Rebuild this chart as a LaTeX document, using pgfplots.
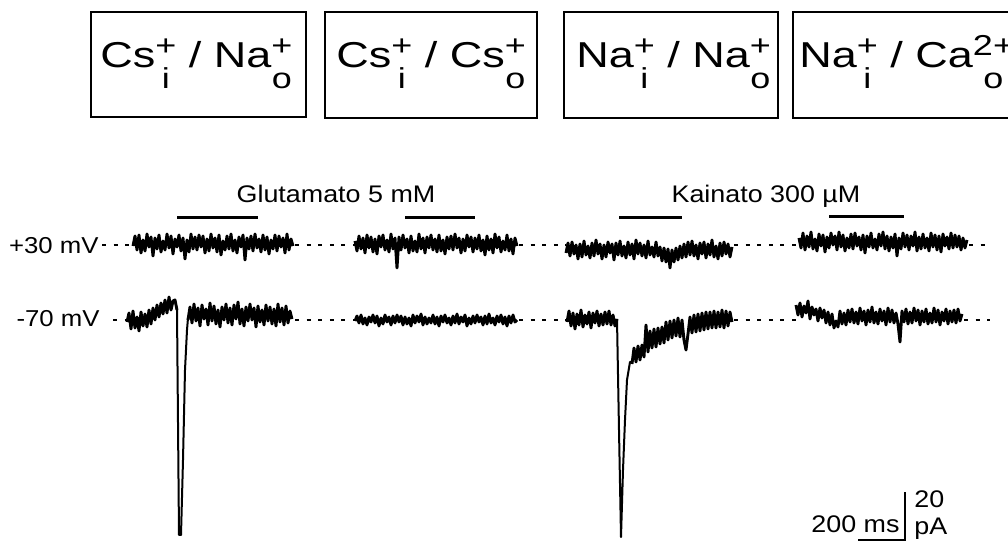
\documentclass[border=0pt]{standalone}
\usepackage{fontspec}
\setmainfont{Liberation Sans}
\usepackage{pgfplots}
\pgfplotsset{compat=1.18}

% stacked superscript / subscript for ion labels
\newcommand\ion[2]{{\fontsize{14.4}{15}\selectfont
  \setbox0=\hbox{#1}\setbox2=\hbox{#2}%
  \ifdim\wd0>\wd2 \dimen0=\wd0 \else \dimen0=\wd2 \fi
  \rlap{\hbox to\dimen0{\hss\raise6pt\copy0\hss}}%
  \hbox to\dimen0{\hss\lower10.5pt\copy2\hss}}}
\newcommand\wide[2][1.12]{\scalebox{#1}[1]{#2}}

\pgfplotsset{
  trace/.style={black, line width=1.45pt, line join=round, mark=none},
  peak/.style={black, line width=1pt, line join=round, mark=none},
  dotline/.style={black, line width=1.2pt, dash pattern=on 2pt off 3.8pt, mark=none},
  drug/.style={black, line width=1.5pt, mark=none},
}

\begin{document}
\begin{tikzpicture}
\begin{axis}[
  name=ax,
  scale only axis, width=504pt, height=272pt,
  xmin=0, xmax=1008, ymin=0, ymax=544, y dir=reverse,
  hide axis, clip=false,
]
% ---- solution boxes ----
\draw[line width=1pt] (axis cs:91,12) rectangle (axis cs:306,117);
\draw[line width=1pt] (axis cs:325,12) rectangle (axis cs:537,118);
\draw[line width=1pt] (axis cs:564,12) rectangle (axis cs:778,118);
\draw[line width=1pt] (axis cs:793,12) rectangle (axis cs:1030,118);
\node[anchor=base west, inner sep=0, font=\fontsize{18}{20}\selectfont] at (axis cs:100,68) {\wide[1.25]{Cs\ion{+}{i} / Na\ion{+}{o}}};
\node[anchor=base west, inner sep=0, font=\fontsize{18}{20}\selectfont] at (axis cs:336,68) {\wide[1.25]{Cs\ion{+}{i} / Cs\ion{+}{o}}};
\node[anchor=base west, inner sep=0, font=\fontsize{18}{20}\selectfont] at (axis cs:576,68) {\wide[1.25]{Na\ion{+}{i} / Na\ion{+}{o}}};
\node[anchor=base west, inner sep=0, font=\fontsize{18}{20}\selectfont] at (axis cs:799,68) {\wide[1.25]{Na\ion{+}{i} / Ca\ion{2+}{o}}};

% ---- agonist labels and application bars ----
\node[anchor=base, inner sep=0, font=\fontsize{12}{14}\selectfont] at (axis cs:336,203) {\wide{Glutamato 5 mM}};
\node[anchor=base, inner sep=0, font=\fontsize{12}{14}\selectfont] at (axis cs:766,203) {\wide{Kainato 300 µM}};
\addplot[drug] coordinates {(177,218) (258,218)};
\addplot[drug] coordinates {(405,218) (475,218)};
\addplot[drug] coordinates {(619,218) (682,218)};
\addplot[drug] coordinates {(829,217) (904,217)};

% ---- holding potentials ----
\node[anchor=east, inner sep=0, font=\fontsize{11.5}{14}\selectfont] at (axis cs:99,246) {\wide{+30 mV}};
\node[anchor=east, inner sep=0, font=\fontsize{11.5}{14}\selectfont] at (axis cs:100,319) {\wide{-70 mV}};

% ---- zero-current reference lines ----
\addplot[dotline] coordinates {(102,245) (133,245)};
\addplot[dotline] coordinates {(295,245) (355,245)};
\addplot[dotline] coordinates {(519,245) (566,245)};
\addplot[dotline] coordinates {(734,245) (799,245)};
\addplot[dotline] coordinates {(969,245) (992,245)};
\addplot[dotline] coordinates {(113,320) (127,320)};
\addplot[dotline] coordinates {(295,320) (355,320)};
\addplot[dotline] coordinates {(519,320) (567,320)};
\addplot[dotline] coordinates {(734,320) (796,320)};
\addplot[dotline] coordinates {(964,320) (990,320)};

% ---- +30 mV traces (offsets from baseline, 2 px sampling) ----
\addplot[trace] table[header=false, row sep=\\, x expr={133+2*\coordindex}, y expr={244+\thisrowno{0}}] {
2\\ -8\\ 6\\ -9\\ 9\\ -4\\ 7\\ -10\\ 3\\ -7\\ 12\\ -6\\ 5\\ -9\\ 8\\ -3\\ 6\\ -10\\ 4\\ -8\\
10\\ -5\\ 3\\ -9\\ 7\\ -6\\ 15\\ -4\\ 8\\ -10\\ 5\\ -7\\ 6\\ -9\\ 3\\ -8\\ 9\\ -5\\ 7\\ -10\\
4\\ -6\\ 8\\ -9\\ 11\\ -3\\ 6\\ -8\\ 5\\ -10\\ 7\\ -4\\ 9\\ -7\\ 3\\ -9\\ 16\\ -6\\ 5\\ -8\\
7\\ -10\\ 4\\ -5\\ 8\\ -9\\ 6\\ -7\\ 10\\ -4\\ 5\\ -9\\ 7\\ -8\\ 3\\ -6\\ 9\\ -10\\ 6\\ -5\\ 2\\
};
\addplot[trace] table[header=false, row sep=\\, x expr={355+2*\coordindex}, y expr={244+\thisrowno{0}}] {
-3\\ 7\\ -8\\ 5\\ -6\\ 9\\ -9\\ 4\\ -7\\ 8\\ -5\\ 10\\ -8\\ 3\\ -9\\ 6\\ -4\\ 8\\ -10\\ 5\\
-6\\ 24\\ -7\\ 6\\ -9\\ 4\\ -5\\ 9\\ -8\\ 7\\ -3\\ 8\\ -10\\ 5\\ -6\\ 9\\ -7\\ 4\\ -9\\ 6\\
-5\\ 8\\ -9\\ 7\\ -4\\ 10\\ -7\\ 5\\ -8\\ 6\\ -10\\ 4\\ -6\\ 9\\ -5\\ 7\\ -9\\ 3\\ -7\\ 8\\
-6\\ 5\\ -9\\ 7\\ -4\\ 11\\ -8\\ 6\\ -5\\ 9\\ -10\\ 4\\ -7\\ 8\\ -3\\ 6\\ -9\\ 7\\ -5\\ 10\\ -6\\ 2\\
};
\addplot[trace] table[header=false, row sep=\\, x expr={566+2*\coordindex}, y expr={250+\thisrowno{0}}] {
3\\ -7\\ 6\\ -8\\ 4\\ -5\\ 9\\ -6\\ 7\\ -9\\ 5\\ -4\\ 8\\ -7\\ 6\\ -10\\ 4\\ -6\\ 9\\ -5\\
7\\ -8\\ 3\\ -6\\ 10\\ -7\\ 5\\ -9\\ 6\\ -4\\ 8\\ -8\\ 5\\ -6\\ 9\\ -10\\ 4\\ -7\\ 6\\ -5\\
8\\ -9\\ 5\\ -3\\ 7\\ -8\\ 6\\ -3\\ 11\\ -2\\ 12\\ -1\\ 18\\ 0\\ 12\\ -2\\ 10\\ -4\\ 8\\ -6\\
7\\ -8\\ 5\\ -9\\ 6\\ -5\\ 9\\ -7\\ 4\\ -8\\ 8\\ -6\\ 5\\ -10\\ 7\\ -4\\ 9\\ -7\\ 6\\ -8\\ 4\\ -6\\ 7\\ -3\\
};
\addplot[trace] table[header=false, row sep=\\, x expr={799+2*\coordindex}, y expr={242+\thisrowno{0}}] {
-4\\ 6\\ -9\\ 8\\ -6\\ 5\\ -10\\ 7\\ -3\\ 9\\ -8\\ 4\\ -7\\ 10\\ -5\\ 6\\ -9\\ 3\\ -6\\ 8\\
-10\\ 5\\ -7\\ 9\\ -4\\ 6\\ -8\\ 7\\ -9\\ 4\\ -5\\ 8\\ -7\\ 11\\ -6\\ 5\\ -9\\ 6\\ -3\\ 8\\
-8\\ 4\\ -10\\ 7\\ -6\\ 9\\ -5\\ 6\\ -8\\ 14\\ -4\\ 7\\ -9\\ 5\\ -7\\ 8\\ -6\\ 4\\ -10\\ 9\\
-5\\ 7\\ -8\\ 6\\ -4\\ 9\\ -9\\ 5\\ -7\\ 8\\ -6\\ 10\\ -8\\ 4\\ -5\\ 7\\ -9\\ 6\\ -7\\ 5\\
-6\\ 8\\ -4\\ 6\\ -2\\
};

% ---- -70 mV traces ----
% Cs/Na, glutamate: noise, fast inward peak, then baseline
\addplot[trace] table[header=false, row sep=\\, x expr={127+2*\coordindex}, y expr={322+\thisrowno{0}}] {
0\\ -9\\ 7\\ -11\\ 6\\ -5\\ 9\\ -10\\ 4\\ -8\\ 5\\ -12\\ 2\\ -14\\ -2\\ -17\\ -5\\ -19\\ -8\\ -22\\
-9\\ -25\\ -12\\ -21\\ -22\\ -12\\
};
\addplot[peak] coordinates {(177,310) (179,535) (181,535) (183,460) (185,370) (187,330) (188,318)};
\addplot[trace] table[header=false, row sep=\\, x expr={188+2*\coordindex}, y expr={316+\thisrowno{0}}] {
4\\ -9\\ 7\\ -12\\ 5\\ -8\\ 10\\ -11\\ 3\\ -7\\ 9\\ -13\\ 5\\ -10\\ 8\\ -6\\ 11\\ -9\\ 4\\ -12\\
7\\ -8\\ 9\\ -11\\ 3\\ -14\\ 8\\ -7\\ 10\\ -9\\ 5\\ -12\\ 4\\ -8\\ 11\\ -10\\ 6\\ -6\\ 9\\ -11\\
5\\ -9\\ 8\\ -7\\ 10\\ -12\\ 6\\ -8\\ 9\\ -10\\ 7\\ -5\\ 3\\
};
% Cs/Cs, glutamate: no response
\addplot[trace] table[header=false, row sep=\\, x expr={355+2*\coordindex}, y expr={320+\thisrowno{0}}] {
1\\ -4\\ 3\\ -5\\ 4\\ -2\\ 5\\ -3\\ 2\\ -5\\ 3\\ -4\\ 6\\ -2\\ 4\\ -5\\ 2\\ -3\\ 5\\ -4\\
3\\ -5\\ 2\\ -4\\ 5\\ -3\\ 4\\ -2\\ 6\\ -5\\ 3\\ -4\\ 2\\ -6\\ 5\\ -3\\ 4\\ -2\\ 3\\ -5\\
4\\ -3\\ 6\\ -4\\ 2\\ -5\\ 3\\ -2\\ 5\\ -4\\ 3\\ -6\\ 4\\ -3\\ 2\\ -5\\ 6\\ -2\\ 4\\ -4\\
3\\ -5\\ 2\\ -3\\ 5\\ -4\\ 4\\ -6\\ 3\\ -2\\ 5\\ -4\\ 2\\ -5\\ 4\\ -3\\ 6\\ -4\\ 3\\ -5\\ 2\\ 0\\
};
% Na/Na, kainate: inward peak with slow recovery
\addplot[trace] table[header=false, row sep=\\, x expr={567+2*\coordindex}, y expr={319+\thisrowno{0}}] {
3\\ -8\\ 7\\ -6\\ 10\\ -5\\ 6\\ -9\\ 8\\ -4\\ 5\\ -7\\ 9\\ -6\\ 4\\ -8\\ 7\\ -5\\ 6\\ -7\\
5\\ -8\\ 6\\ -4\\ 7\\ 0\\
};
\addplot[peak] coordinates {(617,319) (619,430) (621,537) (623,470) (625,420) (627,380) (630,362) (632,362)};
\addplot[trace] table[header=false, row sep=\\, x expr={632+2*\coordindex}, y expr={\thisrowno{0}}] {
364\\ 348\\ 362\\ 346\\ 360\\ 345\\ 357\\ 325\\ 352\\ 331\\ 348\\ 329\\ 347\\ 328\\ 344\\ 327\\ 343\\ 322\\ 340\\ 321\\
338\\ 320\\ 336\\ 318\\ 337\\ 320\\ 340\\ 350\\ 334\\ 317\\ 333\\ 315\\ 332\\ 314\\ 331\\ 313\\ 330\\ 312\\ 329\\ 312\\
328\\ 311\\ 328\\ 312\\ 327\\ 310\\ 328\\ 311\\ 326\\ 312\\ 322\\
};
% Na/Ca, kainate: no response
\addplot[trace] table[header=false, row sep=\\, x expr={796+2*\coordindex}, y expr={317+\thisrowno{0}}] {
-12\\ -2\\ -14\\ 0\\ -11\\ -4\\ -16\\ 2\\ -10\\ -2\\ -8\\ 4\\ -9\\ 1\\ -7\\ 6\\ -5\\ 8\\ -3\\ 11\\
4\\ 10\\ -6\\ 7\\ -4\\ 8\\ -7\\ 5\\ -8\\ 6\\ -5\\ 7\\ -9\\ 4\\ -6\\ 8\\ -7\\ 5\\ -10\\ 6\\
-5\\ 7\\ -8\\ 4\\ -6\\ 8\\ -9\\ 5\\ -7\\ 6\\ -4\\ 7\\ 25\\ -6\\ 5\\ -8\\ 7\\ -5\\ 6\\ -9\\
4\\ -7\\ 8\\ -6\\ 5\\ -8\\ 7\\ -4\\ 6\\ -9\\ 5\\ -7\\ 8\\ -5\\ 4\\ -8\\ 7\\ -6\\ 5\\ -7\\ 6\\ -8\\ 4\\ -3\\
};

% ---- scale bar: 200 ms, 20 pA ----
\addplot[black, line width=1.3pt, mark=none] coordinates {(858,540) (905,540) (905,492)};
\node[anchor=base east, inner sep=0, font=\fontsize{12}{14}\selectfont] at (axis cs:900,533) {\wide{200 ms}};
\node[anchor=base west, inner sep=0, font=\fontsize{12}{14}\selectfont] at (axis cs:914,508) {\wide{20}};
\node[anchor=base west, inner sep=0, font=\fontsize{12}{14}\selectfont] at (axis cs:914,535) {\wide{pA}};
\end{axis}
\pgfresetboundingbox
\useasboundingbox (ax.south west) rectangle (ax.north east);
\end{tikzpicture}
\end{document}
